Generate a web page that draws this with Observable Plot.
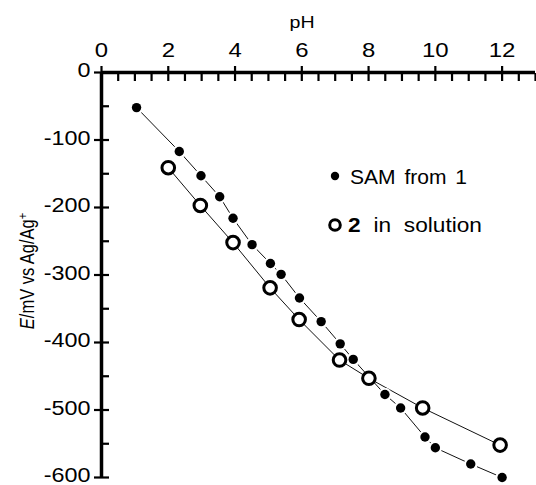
<!DOCTYPE html>
<html><head><meta charset="utf-8">
<script src="https://cdn.jsdelivr.net/npm/d3@7"></script>
<script src="https://cdn.jsdelivr.net/npm/@observablehq/plot@0.6"></script>
<style>
body{margin:0;background:#fff;}
#wrap{position:relative;width:536px;height:485px;}
#overlay{position:absolute;left:0;top:0;pointer-events:none;}
</style></head><body><div id="wrap"></div>
<script>
// Series: SAM from 1 (filled dots)
const samPH = [1.05, 2.33, 2.98, 3.54, 3.94, 4.51, 5.06, 5.38, 5.93, 6.58, 7.15, 7.54, 8.49, 8.96, 9.69, 10.0, 11.06, 12.0];
const samE  = [-52, -117, -153, -184, -216, -255, -283, -299, -334, -369, -402, -425, -477, -497, -540, -556, -580, -600];
// Series: 2 in solution (open circles)
const solPH = [2.0, 2.96, 3.94, 5.05, 5.92, 7.13, 8.01, 9.62, 11.94];
const solE  = [-141, -197, -252, -319, -366, -426, -453, -497, -552];
// Ticks
const xTicks = [0, 2, 4, 6, 8, 10, 12];
const xMinor = [0.5, 1, 1.5, 2.5, 3, 3.5, 4.5, 5, 5.5, 6.5, 7, 7.5, 8.5, 9, 9.5, 10.5, 11, 11.5, 12.5, 13];
const yTicks = [0, -100, -200, -300, -400, -500, -600];
const yMinor = [-50, -150, -250, -350, -450, -550];
const seriesNames = ["SAM from 1", "in solution"];
const xLabel = "pH";

const sam = samPH.map((x, i) => ({x, y: samE[i]}));
const sol = solPH.map((x, i) => ({x, y: solE[i]}));
const FONT = "'Liberation Sans', Arial, Helvetica, sans-serif";

const chart = Plot.plot({
  width: 536, height: 485,
  marginLeft: 101, marginRight: 1, marginTop: 72, marginBottom: 8,
  style: {fontFamily: FONT, fontSize: "16px", background: "white", color: "black"},
  x: {domain: [0, 13]},
  y: {domain: [-600, 0]},
  marks: [
    Plot.line(sam, {x: "x", y: "y", stroke: "#111", strokeWidth: 1}),
    Plot.line(sol, {x: "x", y: "y", stroke: "#111", strokeWidth: 1}),
    Plot.ruleY([0], {stroke: "black", strokeWidth: 3.5}),
    Plot.ruleX([0], {stroke: "black", strokeWidth: 3.5}),
    // x axis (top)
    Plot.axisX(xMinor, {anchor: "top", tickSize: 8, dy: 8, strokeWidth: 2.2, fill: "none", label: null}),
    Plot.axisX(xTicks, {anchor: "top", tickSize: 15, dy: 8, strokeWidth: 2.2, fill: "none", label: null}),
    Plot.axisX(xTicks, {anchor: "top", tickSize: 0, tickPadding: 16, fontSize: 20, label: null}),
    // y axis (left)
    Plot.axisY(yMinor, {anchor: "left", tickSize: 8, dx: 8, strokeWidth: 2.2, fill: "none", label: null}),
    Plot.axisY(yTicks, {anchor: "left", tickSize: 15, dx: 8, strokeWidth: 2.2, fill: "none", label: null}),
    Plot.axisY(yTicks, {anchor: "left", tickSize: 0, tickPadding: 11, fontSize: 19.5, dy: -1.5, tickFormat: d => String(d), label: null}),
    Plot.dot(sam, {x: "x", y: "y", r: 6.8, fill: "white"}),
    Plot.dot(sam, {x: "x", y: "y", r: 4.7, fill: "black"}),
    Plot.dot(sol, {x: "x", y: "y", r: 6.3, fill: "white", stroke: "black", strokeWidth: 3})
  ]
});

const wrap = document.getElementById("wrap");
wrap.appendChild(chart);

// The reference lettering is horizontally wide: stretch horizontal texts
function stretch(el, f) {
  el.removeAttribute("textLength");
  const w = el.getComputedTextLength();
  el.setAttribute("textLength", (w * f).toFixed(1));
  el.setAttribute("lengthAdjust", "spacingAndGlyphs");
}
const tickTexts = new Set([...xTicks, ...yTicks].map(String));
chart.querySelectorAll("text").forEach(t => {
  if (tickTexts.has(t.textContent)) stretch(t, 1.2);
});

// Overlay: axis titles and legend
const ov = d3.select(wrap).append("svg").attr("id", "overlay").attr("width", 536).attr("height", 485)
  .style("font-family", FONT).attr("fill", "black");

// x title
const px = ov.append("text").attr("x", 302).attr("y", 27.5).attr("text-anchor", "middle")
  .style("font-size", "16px").text(xLabel);
stretch(px.node(), 1.22);

// y title: E (italic) /mV vs Ag/Ag(+ superscript), widened like the reference
const yt = ov.append("text").attr("transform", "translate(34,271) scale(1.22,1) rotate(-90)").attr("text-anchor", "middle")
  .style("font-size", "16.5px");
yt.append("tspan").attr("font-style", "italic").text("E");
yt.append("tspan").text("/mV vs Ag/Ag");
yt.append("tspan").attr("dy", -6).style("font-size", "11px").text("+");

// legend
ov.append("circle").attr("cx", 335).attr("cy", 176).attr("r", 4.2).attr("fill", "black");
const t1 = ov.append("text").attr("x", 350).attr("y", 183.5).attr("word-spacing", "3").style("font-size", "21px").text(seriesNames[0]);
ov.append("circle").attr("cx", 335).attr("cy", 225).attr("r", 5.3).attr("fill", "white").attr("stroke", "black").attr("stroke-width", 3);
const t2 = ov.append("text").attr("x", 348).attr("y", 232).attr("word-spacing", "6").style("font-size", "21px");
t2.append("tspan").attr("font-weight", "bold").text("2");
t2.append("tspan").text(" " + seriesNames[1]);
stretch(t1.node(), 117 / t1.node().getComputedTextLength());
stretch(t2.node(), 134 / t2.node().getComputedTextLength());
</script></body></html>
